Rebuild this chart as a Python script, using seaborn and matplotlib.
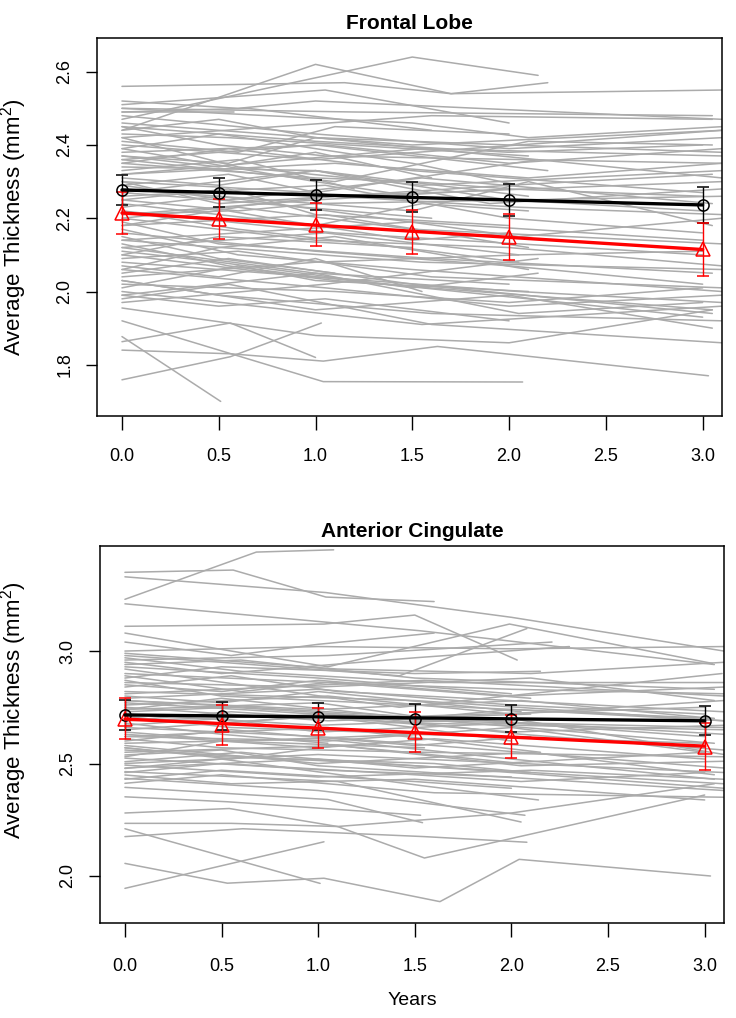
import numpy as np
import pandas as pd
import matplotlib
matplotlib.use("Agg")
import matplotlib.pyplot as plt
from matplotlib import font_manager as fm
import seaborn as sns

# ---------------- data ----------------
visit_years = [0.0, 0.5, 1.0, 1.5, 2.0, 3.0]
x_tick_labels = ["0.0", "0.5", "1.0", "1.5", "2.0", "2.5", "3.0"]

frontal_mean_black = [2.277, 2.270, 2.264, 2.257, 2.250, 2.236]
frontal_err_black = [0.040, 0.040, 0.041, 0.041, 0.044, 0.050]
frontal_mean_red = [2.215, 2.197, 2.182, 2.163, 2.148, 2.115]
frontal_err_red = [0.057, 0.055, 0.059, 0.060, 0.063, 0.072]

cing_mean_black = [2.716, 2.712, 2.708, 2.700, 2.700, 2.690]
cing_err_black = [0.066, 0.062, 0.060, 0.064, 0.062, 0.065]
cing_mean_red = [2.700, 2.671, 2.658, 2.641, 2.619, 2.575]
cing_err_red = [0.090, 0.090, 0.089, 0.090, 0.096, 0.105]

frontal_times = [
    [0, 1.0, 1.7, 3.1], [0, 1.5, 2.15], [0, 1.15, 1.7, 2.2], [0, 1.05, 2.0],
    [0, 0.6, 1.0, 3.1], [0, 1.2, 3.05], [0, 0.65, 1.6], [0, 0.58],
    [0, 0.5, 1.5, 3.1], [0, 1.0, 2.0, 3.0], [0, 0.55, 2.1], [0, 1.6, 3.05],
    [0, 0.6, 1.1, 2.0], [0, 1.0, 3.1], [0, 0.5, 1.5, 2.05], [0, 1.05, 2.0, 3.1],
    [0, 0.5, 1.0, 1.6], [0, 1.1, 2.1, 3.05], [0, 0.55, 1.5, 3.0], [0, 1.0, 1.9, 3.1],
    [0, 0.6, 1.2], [0, 1.55, 3.1], [0, 0.5, 1.0, 2.0, 3.0], [0, 1.0, 2.15],
    [0, 0.55, 1.1, 3.1], [0, 1.5, 2.1, 3.05], [0, 0.5, 1.6], [0, 1.05, 2.0, 3.0],
    [0, 0.6, 1.0, 3.1], [0, 1.0, 1.55, 2.1], [0, 0.5, 2.05, 3.1], [0, 1.1, 3.0],
    [0, 0.55, 1.0, 1.5, 2.0], [0, 1.0, 2.0, 3.1], [0, 0.5, 1.6, 3.05], [0, 1.05, 2.1],
    [0, 0.6, 1.5, 3.1], [0, 1.0, 2.0, 3.0], [0, 0.5, 1.1], [0, 1.55, 3.1],
    [0, 0.55, 1.0, 2.05, 3.1], [0, 1.0, 2.0], [0, 0.5, 1.5, 2.15], [0, 1.1, 3.05],
    [0, 0.6, 1.6, 3.1], [0, 1.0, 2.1, 3.0], [0, 0.5, 1.0, 1.55], [0, 1.05, 2.0, 3.1],
    [0, 0.55, 1.5, 3.05], [0, 1.0, 2.05], [0, 0.5, 1.6, 3.1], [0, 1.1, 2.0, 3.0],
    [0, 0.6, 1.0, 2.1], [0, 1.55, 3.1], [0, 0.5, 1.05, 2.0], [0, 1.0, 2.05, 3.0],
    [0, 0.55, 1.6, 3.1], [0, 1.05, 2.15], [0, 1.0, 2.0, 3.05], [0, 1.04, 2.07],
    [0, 0.51], [0, 0.56, 1.0], [0, 0.56, 1.04, 1.63, 3.03], [0, 0.56, 1.03],
    [0, 0.5, 1.0, 1.5, 2.0, 3.0], [0, 1.0, 2.1], [0, 0.6, 1.55, 3.1], [0, 1.0, 1.5],
    [0, 0.5, 2.0, 3.05], [0, 1.1, 2.05, 3.1], [0, 0.55, 1.0, 2.0], [0, 1.5, 3.0],
    [0, 0.5, 1.05, 3.1], [0, 1.0, 2.2], [0, 0.6, 1.6, 2.05], [0, 1.0, 2.0, 3.1],
    [0, 0.5, 1.5], [0, 0.5, 1.0, 2.0, 3.1], [0, 1.1, 2.1, 3.1], [0, 0.55, 1.55, 3.05],
    [0, 1.0, 2.0], [0, 0.6, 1.5, 3.1], [0, 1.05, 2.05, 3.0], [0, 0.5, 1.1, 2.1],
    [0, 1.5, 2.1, 3.1], [0, 0.55, 1.0, 3.1], [0, 1.0, 2.0, 3.05],
]
frontal_vals = [
    [2.44, 2.62, 2.54, 2.55], [2.47, 2.64, 2.59], [2.56, 2.57, 2.54, 2.57], [2.51, 2.55, 2.46],
    [2.52, 2.50, 2.52, 2.47], [2.50, 2.49, 2.48], [2.49, 2.50, 2.44], [2.49, 2.49],
    [2.46, 2.44, 2.40, 2.44], [2.45, 2.41, 2.38, 2.40], [2.43, 2.42, 2.37], [2.42, 2.48, 2.47],
    [2.41, 2.38, 2.45, 2.43], [2.40, 2.36, 2.44], [2.39, 2.43, 2.35, 2.29], [2.38, 2.40, 2.35, 2.39],
    [2.37, 2.34, 2.38, 2.31], [2.36, 2.30, 2.41, 2.40], [2.35, 2.39, 2.33, 2.27], [2.34, 2.33, 2.24, 2.28],
    [2.33, 2.36, 2.28], [2.32, 2.39, 2.37], [2.31, 2.29, 2.33, 2.25, 2.22], [2.30, 2.27, 2.36],
    [2.29, 2.32, 2.26, 2.30], [2.28, 2.22, 2.30, 2.18], [2.27, 2.25, 2.20], [2.26, 2.29, 2.20, 2.16],
    [2.25, 2.22, 2.24, 2.26], [2.24, 2.18, 2.24, 2.22], [2.23, 2.26, 2.15, 2.20], [2.22, 2.16, 2.10],
    [2.21, 2.22, 2.18, 2.14, 2.16], [2.20, 2.14, 2.12, 2.07], [2.19, 2.13, 2.09, 2.05], [2.18, 2.21, 2.12],
    [2.17, 2.10, 2.06, 2.00], [2.16, 2.11, 2.07, 2.02], [2.15, 2.09, 2.05], [2.14, 2.08, 2.06],
    [2.13, 2.07, 2.04, 2.00, 1.97], [2.12, 2.05, 2.02], [2.11, 2.08, 2.01, 2.05], [2.10, 2.03, 1.95],
    [2.09, 2.11, 2.04, 2.01], [2.08, 2.04, 1.98, 1.93], [2.07, 2.04, 2.09, 2.00], [2.06, 2.01, 1.96, 1.99],
    [2.05, 2.09, 2.02, 1.94], [2.04, 2.08, 2.10], [2.03, 1.99, 1.94, 1.92], [2.02, 2.00, 1.97, 2.01],
    [2.01, 2.07, 2.03, 2.00], [2.00, 1.91, 1.96], [1.99, 1.96, 1.98, 1.92], [1.99, 2.05, 1.94, 1.97],
    [1.98, 2.02, 1.91, 1.86], [1.97, 2.02, 2.09], [1.955, 1.88, 1.86, 1.95], [1.92, 1.754, 1.753],
    [1.877, 1.70], [1.863, 1.914, 1.82], [1.84, 1.83, 1.81, 1.85, 1.77], [1.759, 1.822, 1.914],
    [2.35, 2.33, 2.31, 2.30, 2.28, 2.26], [2.27, 2.33, 2.26], [2.42, 2.34, 2.29, 2.33], [2.39, 2.30, 2.26],
    [2.30, 2.24, 2.29, 2.32], [2.20, 2.26, 2.23, 2.21], [2.25, 2.28, 2.21, 2.18], [2.14, 2.19, 2.14],
    [2.45, 2.40, 2.37, 2.35], [2.36, 2.40, 2.33], [2.22, 2.17, 2.11, 2.08], [2.48, 2.43, 2.39, 2.42],
    [2.10, 2.15, 2.12], [2.44, 2.47, 2.42, 2.40, 2.38], [2.32, 2.35, 2.31, 2.35], [2.29, 2.25, 2.31, 2.24],
    [2.21, 2.25, 2.28], [2.18, 2.23, 2.17, 2.13], [2.12, 2.16, 2.10, 2.11], [2.06, 2.12, 2.15, 2.06],
    [2.50, 2.46, 2.42, 2.45], [2.37, 2.35, 2.42, 2.31], [2.03, 1.95, 1.99, 1.90],
]

cing_times = [
    [0, 0.68, 1.08], [0, 0.56, 1.04, 1.6], [0, 1.04, 2.0, 3.1], [0, 1.53, 3.05],
    [0, 1.03, 1.5, 2.03], [0, 0.55, 1.05, 1.99, 3.04], [0, 0.5, 1.42, 2.08], [0, 0.55, 1.0, 1.6],
    [0, 1.05, 2.21], [0, 0.5, 1.5, 2.3], [0, 1.0, 2.0, 3.1], [0, 0.6, 1.42, 3.09],
    [0, 1.05, 2.0, 3.1], [0, 0.5, 1.5, 2.15], [0, 1.0, 2.1, 3.05], [0, 0.55, 1.1, 3.1],
    [0, 1.5, 3.1], [0, 0.5, 1.0, 2.05], [0, 1.0, 2.0, 3.0], [0, 0.6, 1.55, 3.1],
    [0, 1.05, 2.1], [0, 0.5, 1.5, 3.05], [0, 1.0, 2.0, 3.1], [0, 0.55, 1.6],
    [0, 1.1, 2.05, 3.1], [0, 0.5, 1.0, 1.5, 2.0], [0, 1.0, 3.1], [0, 0.6, 1.5, 3.0],
    [0, 1.05, 2.15], [0, 0.5, 1.55, 3.1], [0, 1.0, 2.0, 3.05], [0, 0.55, 1.1, 2.05],
    [0, 1.5, 3.1], [0, 0.5, 1.0, 3.1], [0, 1.05, 2.0], [0, 0.6, 1.5, 3.0],
    [0, 1.0, 2.1, 3.1], [0, 0.5, 1.55, 2.14], [0, 1.1, 2.05], [0, 0.55, 1.5, 3.0],
    [0, 1.0, 2.07], [0, 0.5, 1.6, 3.1], [0, 1.05, 1.54], [0, 0.53, 1.53],
    [0, 0.54, 1.1, 2.0, 3.05], [0, 0.55, 1.1, 1.55, 3.0], [0, 1.01], [0, 0.61, 1.55, 2.08],
    [0, 0.53, 1.03, 1.63, 2.04, 3.03], [0, 1.03], [0, 0.5, 1.0, 1.5, 2.0, 3.0], [0, 1.0, 2.0, 3.1],
    [0, 0.55, 1.5, 2.1], [0, 1.05, 3.1], [0, 0.5, 1.5, 3.05], [0, 1.0, 2.0],
    [0, 0.6, 1.6, 3.1], [0, 1.1, 2.05, 3.1], [0, 0.5, 1.05], [0, 1.0, 1.6, 3.0],
    [0, 0.55, 1.5, 2.0, 3.1], [0, 1.0, 2.1, 3.05], [0, 0.5, 1.55], [0, 1.05, 2.0, 3.1],
    [0, 1.55, 3.1], [0, 0.6, 1.05, 2.1], [0, 1.0, 3.1], [0, 0.5, 1.5, 2.05, 3.0],
    [0, 0.5, 1.0, 2.0, 3.1], [0, 1.0, 2.05, 3.05], [0, 0.55, 1.5, 3.1], [0, 1.05, 2.0, 3.0],
    [0, 0.5, 1.6, 2.1], [0, 1.0, 2.0, 3.1], [0, 0.6, 1.5, 3.05], [0, 1.1, 2.1, 3.1],
    [0, 0.5, 1.5, 2.0], [0, 1.0, 1.5, 3.0],
]
cing_vals = [
    [3.23, 3.44, 3.45], [3.35, 3.36, 3.24, 3.22], [3.33, 3.26, 3.15, 3.00], [3.21, 3.09, 2.94],
    [3.11, 3.12, 3.16, 2.96], [3.08, 3.00, 2.93, 3.12, 2.945], [2.98, 2.95, 2.89, 3.10], [3.04, 2.98, 3.03, 3.08],
    [2.96, 2.98, 3.04], [2.95, 2.90, 2.97, 3.02], [3.00, 3.02, 3.01, 3.02], [2.92, 2.85, 2.75, 2.90],
    [2.90, 2.86, 2.83, 2.81], [2.88, 2.93, 2.90, 2.91], [2.86, 2.84, 2.88, 2.78], [2.84, 2.89, 2.82, 2.73],
    [2.82, 2.78, 2.69], [2.80, 2.77, 2.82, 2.73], [2.79, 2.83, 2.76, 2.72], [2.77, 2.74, 2.69, 2.66],
    [2.75, 2.69, 2.72], [2.74, 2.79, 2.70, 2.59], [2.72, 2.67, 2.70, 2.54], [2.71, 2.66, 2.63],
    [2.69, 2.72, 2.63, 2.56], [2.67, 2.70, 2.64, 2.66, 2.60], [2.66, 2.62, 2.48], [2.64, 2.60, 2.63, 2.59],
    [2.62, 2.66, 2.55], [2.61, 2.57, 2.55, 2.53], [2.59, 2.61, 2.52, 2.43], [2.57, 2.52, 2.58, 2.50],
    [2.56, 2.49, 2.41], [2.538, 2.56, 2.49, 2.38], [2.524, 2.47, 2.44], [2.508, 2.55, 2.48, 2.55],
    [2.493, 2.44, 2.47, 2.43], [2.478, 2.52, 2.40, 2.338], [2.464, 2.42, 2.24], [2.449, 2.41, 2.43, 2.338],
    [2.434, 2.38, 2.27], [2.412, 2.45, 2.37, 2.35], [2.394, 2.34, 2.237], [2.352, 2.33, 2.27],
    [2.28, 2.30, 2.22, 2.28, 2.41], [2.234, 2.234, 2.22, 2.08, 2.36], [2.21, 1.967], [2.175, 2.21, 2.175, 2.15],
    [2.056, 1.968, 1.99, 1.886, 2.074, 2.0], [1.945, 2.152], [2.70, 2.68, 2.71, 2.66, 2.68, 2.62], [2.65, 2.71, 2.64, 2.67],
    [2.60, 2.65, 2.58, 2.62], [2.78, 2.73, 2.63], [2.87, 2.80, 2.76, 2.70], [2.93, 2.88, 2.81],
    [2.97, 2.91, 2.86, 2.86], [2.55, 2.58, 2.49, 2.51], [2.68, 2.63, 2.59], [2.63, 2.57, 2.61, 2.52],
    [2.73, 2.75, 2.70, 2.74, 2.69], [2.58, 2.50, 2.55, 2.45], [2.53, 2.60, 2.57], [2.76, 2.80, 2.72, 2.78],
    [2.81, 2.87, 2.80], [2.89, 2.82, 2.86, 2.79], [2.50, 2.54, 2.46], [2.46, 2.50, 2.45, 2.42, 2.46],
    [2.85, 2.82, 2.87, 2.80, 2.84], [2.78, 2.74, 2.78, 2.70], [2.69, 2.73, 2.68, 2.65], [2.62, 2.60, 2.66, 2.55],
    [2.57, 2.53, 2.50, 2.46], [2.48, 2.52, 2.46, 2.39], [2.94, 2.96, 2.88, 2.83], [2.99, 2.92, 2.90, 2.95],
    [2.43, 2.47, 2.42, 2.39], [2.74, 2.77, 2.71, 2.75],
]

# ---------------- style ----------------
sns.set_style("white")
plt.rcParams["font.family"] = ["Liberation Sans", "DejaVu Sans"]
plt.rcParams["mathtext.fontset"] = "custom"
plt.rcParams["mathtext.rm"] = "Liberation Sans"

_names = {f.name for f in fm.fontManager.ttflist}
HAS_NARROW = "Liberation Sans Narrow" in _names
NARROW = ["Liberation Sans Narrow", "Liberation Sans"] if HAS_NARROW else ["Liberation Sans"]
TICK_SIZE = 13.5 if HAS_NARROW else 13
XLAB_SIZE = 15 if HAS_NARROW else 14

fig = plt.figure(figsize=(7.36, 10.18), dpi=100)
ax1 = fig.add_axes([97 / 736, 1 - 415.7 / 1018, 625 / 736, 377.7 / 1018])
ax2 = fig.add_axes([100 / 736, 1 - 923 / 1018, 624 / 736, 377 / 1018])

GRAY = "#ababab"


def panel(ax, times, vals, mb, eb, mr, er, title, ylim, yticks, ylab_x, ylab_y, xpad):
    rows = []
    for sid, (t, v) in enumerate(zip(times, vals)):
        for ti, vi in zip(t, v):
            rows.append((sid, ti, vi))
    df = pd.DataFrame(rows, columns=["subject", "years", "thickness"])
    sns.lineplot(data=df, x="years", y="thickness", units="subject",
                 estimator=None, sort=False, color=GRAY, lw=1.1, ax=ax,
                 legend=False, zorder=1)

    for mean, err, col, mk, ms in [(mb, eb, "black", "o", 8.0),
                                   (mr, er, "red", "^", 9.5)]:
        ax.errorbar(visit_years, mean, yerr=err, fmt=mk, mfc="none",
                    mec=col, ecolor=col, ms=ms, mew=1.1, elinewidth=1.0,
                    capsize=4, capthick=1.3, zorder=3)
        sns.regplot(x=np.array(visit_years), y=np.array(mean), scatter=False,
                    ci=None, color=col, truncate=True,
                    line_kws=dict(lw=2.4, zorder=4), ax=ax)

    ax.set_xlim(-0.129, 3.10)
    ax.set_ylim(*ylim)
    ax.set_xticks([0, 0.5, 1.0, 1.5, 2.0, 2.5, 3.0])
    ax.set_xticklabels(x_tick_labels, family=NARROW, fontsize=TICK_SIZE)
    ax.set_yticks(yticks)
    ax.set_yticklabels([f"{v:.1f}" for v in yticks], rotation=90, va="center",
                       family=NARROW, fontsize=TICK_SIZE)
    ax.tick_params(axis="x", direction="out", length=10, width=1.0,
                   pad=xpad, bottom=True, colors="black")
    ax.tick_params(axis="y", direction="out", length=8, width=1.0,
                   pad=9, left=True, colors="black")
    for s in ax.spines.values():
        s.set_visible(True)
        s.set_color("black")
        s.set_linewidth(1.1)
    ax.set_title(title, fontsize=15, fontweight="bold", pad=6.5, color="black")
    ax.set_ylabel("Average Thickness (mm$^2$)", fontsize=16, color="black")
    ax.yaxis.set_label_coords(ylab_x, ylab_y)
    ax.set_xlabel("")


panel(ax1, frontal_times, frontal_vals, frontal_mean_black, frontal_err_black,
      frontal_mean_red, frontal_err_red, "Frontal Lobe", (1.661, 2.692),
      [1.8, 2.0, 2.2, 2.4, 2.6], -0.108, 0.50, 13)
panel(ax2, cing_times, cing_vals, cing_mean_black, cing_err_black,
      cing_mean_red, cing_err_red, "Anterior Cingulate", (1.791, 3.467),
      [2.0, 2.5, 3.0], -0.113, 0.565, 15)
ax2.set_xlabel("Years", fontsize=XLAB_SIZE, family=NARROW, color="black")
ax2.xaxis.set_label_coords(0.5, -0.182)

fig.savefig("out.png", dpi=100)
